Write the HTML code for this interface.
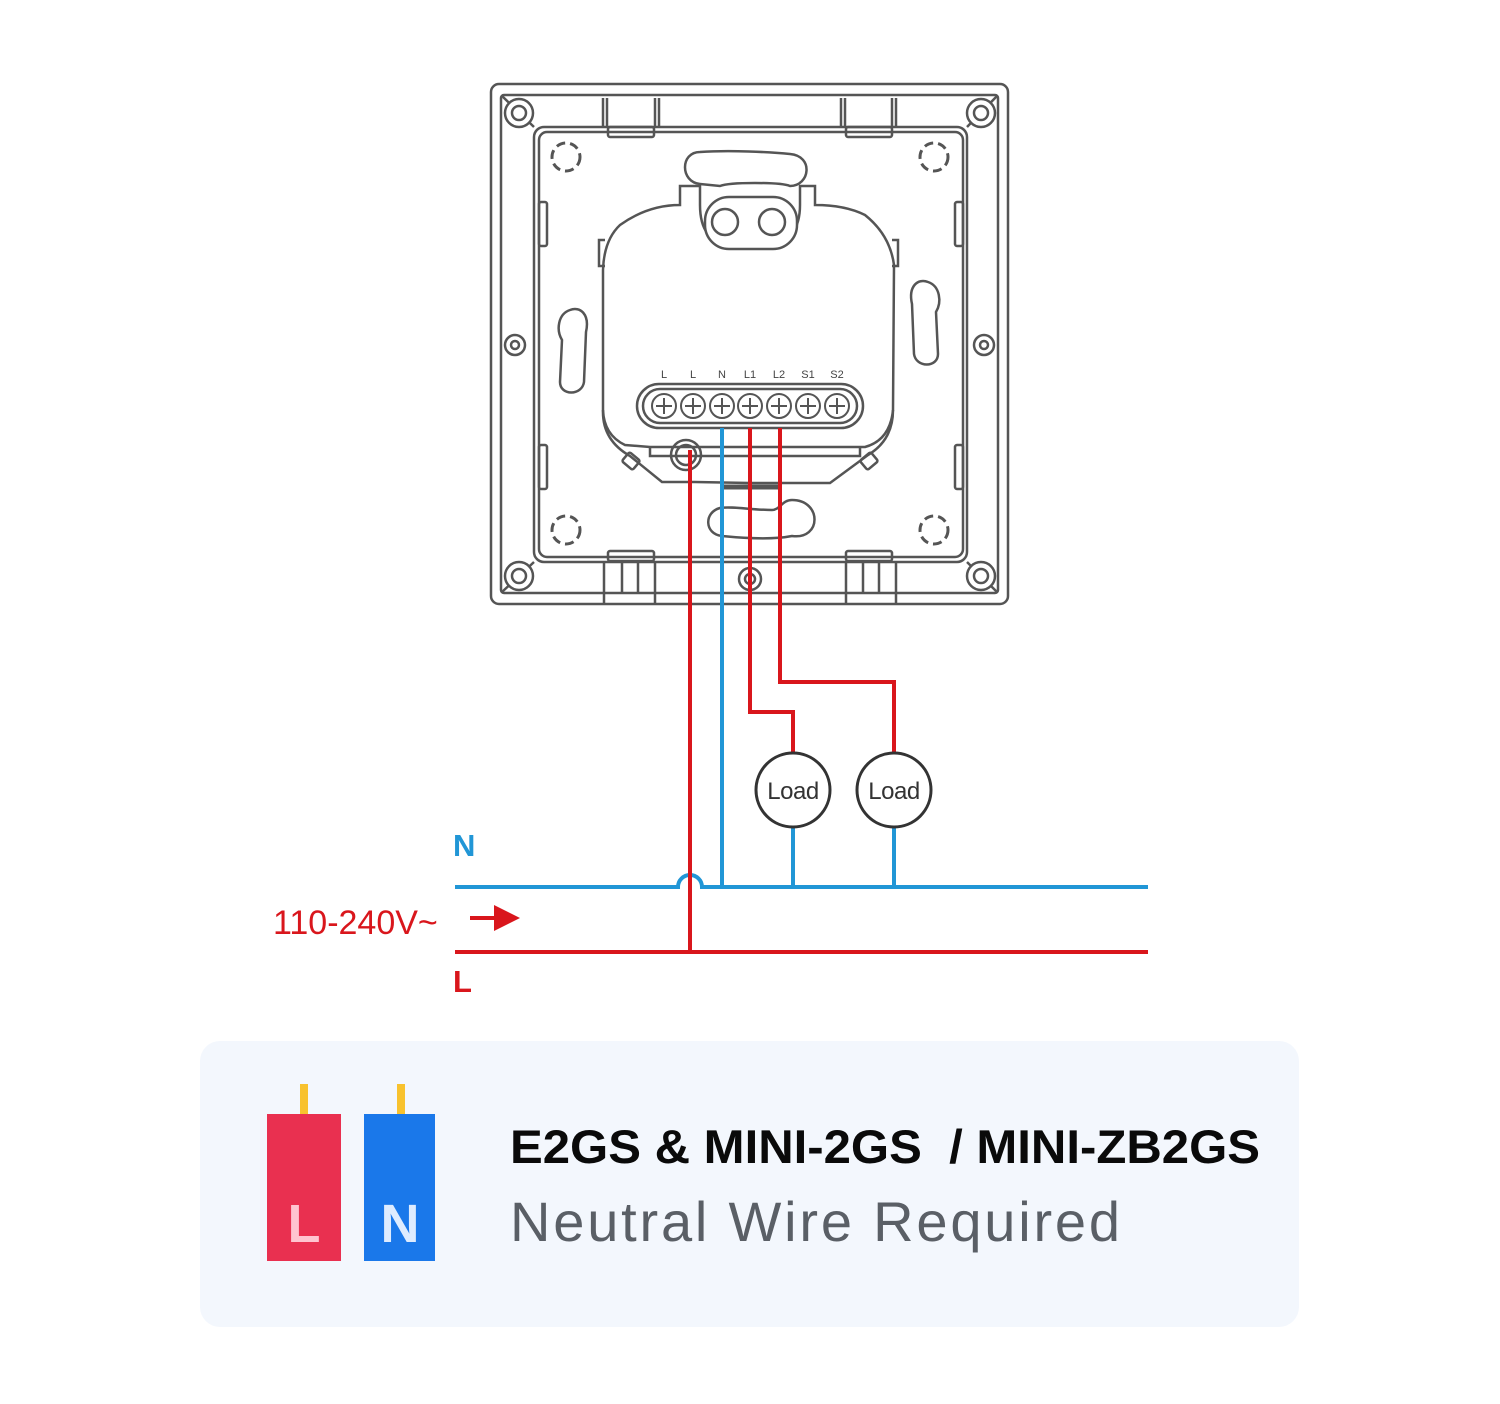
<!DOCTYPE html>
<html><head><meta charset="utf-8"><style>
html,body{margin:0;padding:0;background:#fff;}
svg{display:block;}
</style></head><body>
<svg width="1500" height="1404" viewBox="0 0 1500 1404" xmlns="http://www.w3.org/2000/svg">
<rect width="1500" height="1404" fill="#fff"/>
<g fill="none" stroke="#555" stroke-width="2.5">
  <rect x="491" y="84" width="517" height="520" rx="8"/>
  <rect x="501" y="95" width="497" height="498" rx="3"/>
  <rect x="534" y="127" width="433" height="435" rx="10"/>
  <rect x="539" y="132" width="424" height="425" rx="8"/>
  <path d="M502 96 L534 127 M997 96 L967 127 M502 592 L534 562 M997 592 L967 562"/>
  <circle cx="519" cy="113" r="14" fill="#fff"/><circle cx="519" cy="113" r="7"/>
  <circle cx="981" cy="113" r="14" fill="#fff"/><circle cx="981" cy="113" r="7"/>
  <circle cx="519" cy="576" r="14" fill="#fff"/><circle cx="519" cy="576" r="7"/>
  <circle cx="981" cy="576" r="14" fill="#fff"/><circle cx="981" cy="576" r="7"/>
  <circle cx="515" cy="345" r="10" fill="#fff"/><circle cx="515" cy="345" r="4"/>
  <circle cx="984" cy="345" r="10" fill="#fff"/><circle cx="984" cy="345" r="4"/>
  <circle cx="750" cy="579" r="11" fill="#fff"/><circle cx="750" cy="579" r="5"/>
  <path d="M603 98 v30 M607 98 v30 M655 98 v30 M659 98 v30 M841 98 v30 M845 98 v30 M892 98 v30 M896 98 v30"/>
  <rect x="608" y="127" width="46" height="10" rx="2"/>
  <rect x="846" y="127" width="46" height="10" rx="2"/>
  <rect x="608" y="551" width="46" height="10" rx="2"/>
  <rect x="846" y="551" width="46" height="10" rx="2"/>
  <path d="M604 562 v42 M622 562 v32 M638 562 v32 M655 562 v42 M846 562 v42 M863 562 v32 M879 562 v32 M896 562 v42"/>
  <rect x="539" y="202" width="8" height="44" rx="2"/>
  <rect x="539" y="445" width="8" height="44" rx="2"/>
  <rect x="955" y="202" width="8" height="44" rx="2"/>
  <rect x="955" y="445" width="8" height="44" rx="2"/>
  <g stroke-dasharray="9 5" stroke-width="3">
    <circle cx="566" cy="157" r="14"/><circle cx="934" cy="157" r="14"/>
    <circle cx="566" cy="530" r="14"/><circle cx="934" cy="530" r="14"/>
  </g>
  <path d="M570 310 c-12 4 -14 20 -8 30 l-2 42 c0 14 22 14 24 0 l2 -50 c4 -18 -6 -26 -16 -22 z"/>
  <path d="M928 282 c12 4 14 20 8 30 l2 42 c0 14 -22 14 -24 0 l-2 -50 c-4 -18 6 -26 16 -22 z"/>
  <path d="M700 152 c-20 0 -20 30 0 32 l20 2 c10 -4 60 -4 70 0 c20 0 24 -30 0 -32 c-20 -2 -60 -4 -90 -2 z"/>
  <path d="M720 508 c-16 4 -16 26 2 28 c20 2 50 4 70 0 c30 4 30 -36 0 -36 c-10 0 -12 10 -20 10 c-20 0 -40 -4 -52 -2 z"/>
  <path d="M680 186 L680 205 Q648 205 620 225 Q604 240 603 270 L603 410 Q604 435 625 445 L650 447 L865 447 Q890 440 893 410 L894 265 Q890 235 865 215 Q845 205 815 205 L815 186 L800 186 L800 205 Q800 240 770 245 L730 245 Q700 242 700 205 L700 186 Z" fill="#fff"/>
  <path d="M605 240 h-6 v26 h6 M892 240 h6 v26 h-6"/>
  <path d="M603 410 Q602 440 630 456 L662 482 L695 482 L750 483 L830 483 L868 455 Q893 440 893 410"/>
  <rect x="624" y="455" width="14" height="12" rx="2" transform="rotate(40 631 461)"/>
  <rect x="862" y="455" width="14" height="12" rx="2" transform="rotate(-40 869 461)"/>
  <path d="M650 447 L650 456 L860 456 L860 447"/>
  <circle cx="686" cy="455" r="15"/><circle cx="686" cy="455" r="10"/>
  <path d="M722 487 h60" stroke-width="5"/>
  <rect x="705" y="197" width="92" height="52" rx="24" fill="#fff"/>
  <circle cx="725" cy="222" r="13"/><circle cx="772" cy="222" r="13"/>
  <rect x="637" y="384" width="226" height="44" rx="22" fill="#fff"/>
  <rect x="643" y="389" width="214" height="34" rx="17"/>
  <g stroke-width="2">
    <circle cx="664" cy="406" r="12"/><circle cx="693" cy="406" r="12"/><circle cx="722" cy="406" r="12"/><circle cx="750" cy="406" r="12"/><circle cx="779" cy="406" r="12"/><circle cx="808" cy="406" r="12"/><circle cx="837" cy="406" r="12"/>
    <path d="M656 406h16M664 398v16 M685 406h16M693 398v16 M714 406h16M722 398v16 M742 406h16M750 398v16 M771 406h16M779 398v16 M800 406h16M808 398v16 M829 406h16M837 398v16"/>
  </g>
</g>
<g font-family="Liberation Sans, sans-serif" font-size="11" fill="#444" text-anchor="middle">
  <text x="664" y="378">L</text><text x="693" y="378">L</text><text x="722" y="378">N</text><text x="750" y="378">L1</text><text x="779" y="378">L2</text><text x="808" y="378">S1</text><text x="837" y="378">S2</text>
</g>
<g fill="none" stroke-width="4">
  <path d="M455 887 H678 A12 12 0 0 1 702 887 H1148" stroke="#2196d6"/>
  <path d="M722 428 V887 M793 827 V887 M894 827 V887" stroke="#2196d6"/>
  <path d="M455 952 H1148" stroke="#d9161c"/>
  <path d="M690 450 V952" stroke="#d9161c"/>
  <path d="M750 428 V712 H793 V753" stroke="#d9161c"/>
  <path d="M780 428 V682 H894 V753" stroke="#d9161c"/>
  <path d="M470 918 H495" stroke="#d9161c"/>
</g>
<path d="M494 905 L520 918 L494 931 Z" fill="#d9161c"/>
<circle cx="793" cy="790" r="37" fill="#fff" stroke="#333" stroke-width="3"/>
<circle cx="894" cy="790" r="37" fill="#fff" stroke="#333" stroke-width="3"/>
<g font-family="Liberation Sans, sans-serif" font-size="24" fill="#333" text-anchor="middle" letter-spacing="-0.5">
  <text x="793" y="799">Load</text><text x="894" y="799">Load</text>
</g>
<text x="453" y="856" font-family="Liberation Sans, sans-serif" font-size="31" font-weight="bold" fill="#2196d6">N</text>
<text x="273" y="934" font-family="Liberation Sans, sans-serif" font-size="34" fill="#d9161c">110-240V~</text>
<text x="453" y="992" font-family="Liberation Sans, sans-serif" font-size="31" font-weight="bold" fill="#d9161c">L</text>
<rect x="200" y="1041" width="1099" height="286" rx="20" fill="#f3f7fd"/>
<rect x="300" y="1084" width="8" height="31" fill="#f8c22e"/>
<rect x="397" y="1084" width="8" height="31" fill="#f8c22e"/>
<rect x="267" y="1114" width="74" height="147" fill="#e93050"/>
<rect x="364" y="1114" width="71" height="147" fill="#1a78ea"/>
<g font-family="Liberation Sans, sans-serif" font-size="54" font-weight="bold" text-anchor="middle">
  <text x="304" y="1242" fill="#ffc4d0">L</text>
  <text x="400" y="1242" fill="#deecff">N</text>
</g>
<text x="510" y="1163" font-family="Liberation Sans, sans-serif" font-size="47" font-weight="bold" fill="#0a0a0a" textLength="750" lengthAdjust="spacingAndGlyphs">E2GS &amp; MINI-2GS&#160; / MINI-ZB2GS</text>
<text x="510" y="1241" font-family="Liberation Sans, sans-serif" font-size="56" fill="#5a5f66" textLength="610" lengthAdjust="spacing">Neutral Wire Required</text>
</svg>
</body></html>
